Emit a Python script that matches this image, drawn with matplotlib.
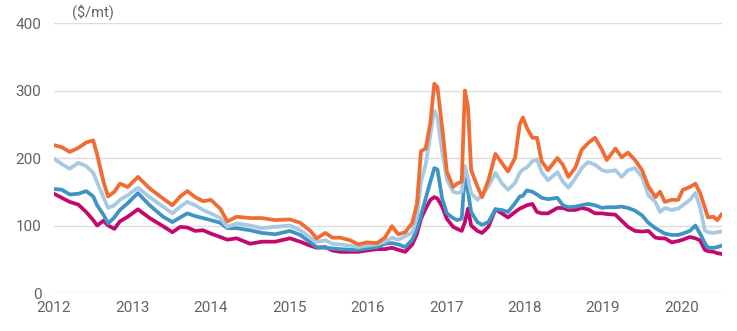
import matplotlib.pyplot as plt

# decimal years of the read points
dates = [2012.00, 2012.10, 2012.20, 2012.31, 2012.41, 2012.50, 2012.55, 2012.63, 2012.69, 2012.77,
         2012.84, 2012.94, 2013.07, 2013.22, 2013.39, 2013.51, 2013.61, 2013.70, 2013.80, 2013.90,
         2014.00, 2014.12, 2014.21, 2014.33, 2014.50, 2014.65, 2014.82, 2015.01, 2015.14, 2015.27,
         2015.35, 2015.46, 2015.55, 2015.65, 2015.78, 2015.88, 2015.99, 2016.12, 2016.22, 2016.31,
         2016.39, 2016.48, 2016.57, 2016.63, 2016.68, 2016.74, 2016.80, 2016.85, 2016.89, 2016.95,
         2017.01, 2017.09, 2017.14, 2017.20, 2017.24, 2017.28, 2017.32, 2017.40, 2017.46, 2017.54,
         2017.63, 2017.71, 2017.79, 2017.88, 2017.94, 2017.98, 2018.03, 2018.10, 2018.16, 2018.22,
         2018.30, 2018.42, 2018.49, 2018.56, 2018.65, 2018.73, 2018.81, 2018.90, 2018.99, 2019.05,
         2019.16, 2019.24, 2019.32, 2019.41, 2019.50, 2019.58, 2019.67, 2019.73, 2019.79, 2019.88,
         2019.96, 2020.02, 2020.11, 2020.18, 2020.24, 2020.30, 2020.34, 2020.41, 2020.46, 2020.51]

orange = [219, 216, 209, 215, 223, 226, 205, 165, 143, 150,
          162, 157, 172, 155, 140, 130, 143, 151, 142, 136,
          138, 125, 106, 113, 111, 111, 108, 109, 104, 92,
          81, 89, 82, 82, 78, 72, 75, 74, 82, 99,
          87, 90, 104, 133, 210, 214, 252, 310, 305, 246,
          180, 157, 162, 165, 300, 275, 182, 158, 142, 167,
          206, 193, 180, 200, 250, 260, 245, 230, 230, 195,
          182, 200, 190, 172, 186, 212, 222, 230, 212, 197,
          214, 201, 208, 197, 182, 158, 142, 150, 135, 138,
          138, 153, 157, 162, 148, 127, 112, 113, 108, 116]

light_blue = [199, 191, 184, 193, 188, 178, 164, 142, 126, 130,
              138, 145, 156, 142, 128, 118, 128, 135, 130, 123,
              118, 111, 98, 103, 100, 96, 98, 100, 93, 82,
              76, 78, 73, 72, 70, 68, 70, 72, 76, 82,
              79, 84, 90, 113, 165, 190, 235, 270, 260, 210,
              168, 150, 148, 150, 188, 170, 148, 138, 145, 158,
              178, 163, 153, 163, 178, 183, 186, 195, 198, 179,
              167, 179, 165, 156, 170, 185, 194, 190, 182, 180,
              182, 172, 182, 185, 172, 145, 135, 120, 126, 123,
              125, 130, 138, 148, 127, 93, 90, 89, 90, 91]

mid_blue = [154, 153, 146, 147, 151, 143, 130, 116, 103, 112,
            123, 133, 148, 130, 113, 105, 112, 118, 114, 111,
            108, 104, 96, 96, 93, 89, 87, 92, 86, 75,
            68, 67, 66, 65, 64, 64, 66, 68, 73, 74,
            72, 68, 79, 95, 115, 140, 165, 185, 183, 140,
            118, 111, 108, 110, 178, 150, 120, 105, 101, 105,
            124, 123, 120, 133, 143, 144, 152, 150, 146, 141,
            139, 141, 130, 127, 128, 130, 132, 130, 126, 127,
            127, 128, 126, 122, 115, 104, 96, 92, 88, 86,
            86, 88, 92, 100, 88, 74, 67, 67, 68, 70]

magenta = [147, 141, 135, 131, 120, 108, 100, 107, 100, 95,
           106, 113, 124, 111, 99, 90, 98, 97, 92, 93,
           88, 83, 79, 81, 73, 76, 76, 81, 76, 70,
           67, 68, 63, 61, 61, 61, 63, 65, 65, 67,
           64, 61, 72, 88, 110, 125, 138, 142, 140, 128,
           110, 98, 95, 92, 105, 125, 100, 92, 89, 98,
           124, 118, 112, 120, 125, 127, 130, 132, 120, 118,
           118, 126, 126, 123, 123, 126, 124, 118, 118, 117,
           116, 107, 98, 92, 91, 92, 82, 81, 81, 75,
           77, 79, 83, 81, 78, 64, 62, 61, 59, 58]

years = list(range(2012, 2021))
yticks = [0, 100, 200, 300, 400]

plt.rcParams['font.family'] = ['Roboto', 'DejaVu Sans']

fig = plt.figure(figsize=(7.37, 3.31), dpi=100)
ax = fig.add_axes([0.0733, 0.1148, 0.9064, 0.8157])

lw = 2.7
ax.plot(dates, magenta, color='#C4096E', lw=lw, solid_joinstyle='round')
ax.plot(dates, mid_blue, color='#3E95C5', lw=lw, solid_joinstyle='round')
ax.plot(dates, light_blue, color='#A7C9E1', lw=lw, solid_joinstyle='round')
ax.plot(dates, orange, color='#F06C32', lw=lw, solid_joinstyle='round')

ax.set_xlim(2012, 2020.52)
ax.set_ylim(0, 400)
ax.set_xticks(years)
ax.set_yticks(yticks)
ax.grid(axis='y', color='#dddddd', lw=1)
ax.set_axisbelow(True)
for s in ax.spines.values():
    s.set_visible(False)
ax.tick_params(axis='both', length=0, labelsize=11, labelcolor='#636366')
ax.tick_params(axis='y', pad=9)
ax.tick_params(axis='x', pad=6)

fig.text(72 / 737, 1 - 12 / 331, '($/mt)', fontsize=10.5, color='#636366', va='center', ha='left')

fig.savefig('out.png', dpi=100)
